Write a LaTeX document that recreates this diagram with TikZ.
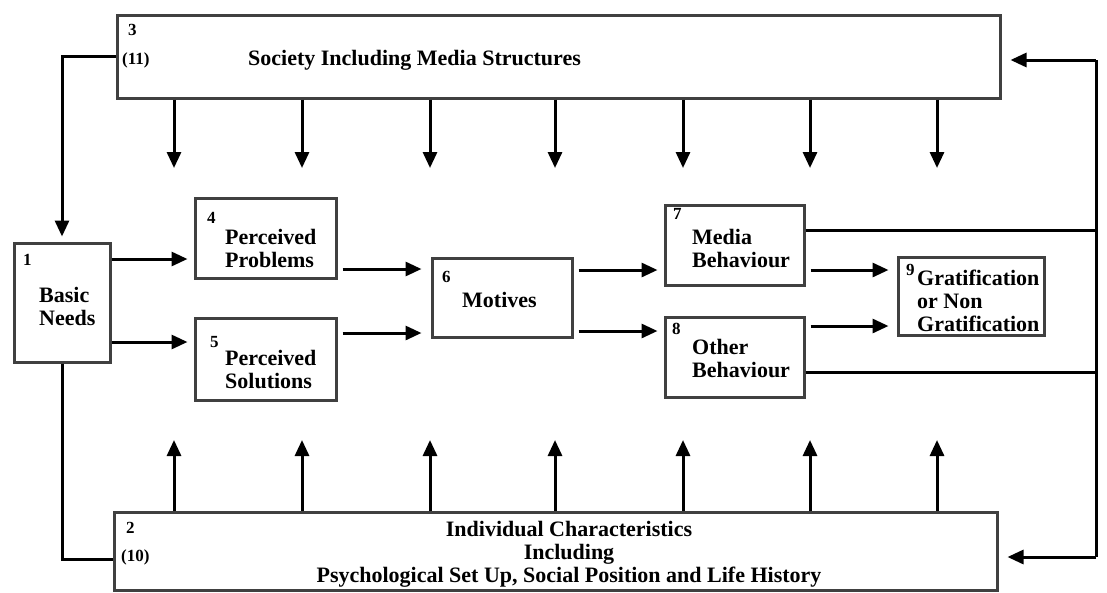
\documentclass[tikz,border=0pt]{standalone}
\usepackage{fontspec}
\setmainfont{Liberation Serif}
\usetikzlibrary{arrows.meta}

\tikzset{
  box/.style={draw=black!75, line width=3pt, inner sep=0pt},
  txt/.style={font=\bfseries\fontsize{22}{23}\selectfont, inner sep=0pt, align=left, anchor=west},
  num/.style={font=\bfseries\fontsize{17}{18}\selectfont, inner sep=0pt, anchor=west},
  link/.style={line width=3pt},
  arr/.style={line width=3pt, -{Triangle[length=16pt,width=14pt]}},
}

\begin{document}
\begin{tikzpicture}[x=1pt,y=-1pt]
  \useasboundingbox (0,0) rectangle (1107,592);

  % Boxes
  \node[box, minimum width=883, minimum height=83] (soc)   at (558.5,56.5) {};
  \node[box, minimum width=883, minimum height=78] (indiv) at (555.5,551) {};
  \node[box, minimum width=96,  minimum height=119] (basic) at (62,302.5) {};
  \node[box, minimum width=141, minimum height=80] (prob)  at (265.5,238) {};
  \node[box, minimum width=141, minimum height=82] (sol)   at (265.5,359) {};
  \node[box, minimum width=140, minimum height=79] (mot)   at (502,297.5) {};
  \node[box, minimum width=139, minimum height=80] (media) at (734.5,245) {};
  \node[box, minimum width=139, minimum height=80] (other) at (734.5,357) {};
  \node[box, minimum width=146, minimum height=78] (grat)  at (971,296) {};

  % Numbers
  \node[num] (n3)  at (128,30)  {3};
  \node[num] (n11) at (122,60)  {(11)};
  \node[num] (n2)  at (126,528) {2};
  \node[num] (n10) at (121,557) {(10)};
  \node[num] (n1)  at (23,260)  {1};
  \node[num] (n4)  at (207,218) {4};
  \node[num] (n5)  at (210,342) {5};
  \node[num] (n6)  at (442,277) {6};
  \node[num] (n7)  at (673,214) {7};
  \node[num] (n8)  at (672,329) {8};
  \node[num] (n9)  at (906,270) {9};

  % Texts
  \node[txt] (soctxt)   at (248,60)    {Society Including Media Structures};
  \node[txt, anchor=center, align=center] (indivtxt) at (569,554)
    {Individual Characteristics\\Including\\Psychological Set Up, Social Position and Life History};
  \node[txt] (basictxt) at (39,306)    {Basic\\Needs};
  \node[txt] (probtxt)  at (225,248.5) {Perceived\\Problems};
  \node[txt] (soltxt)   at (225,369.5) {Perceived\\Solutions};
  \node[txt] (mottxt)   at (462,300)   {Motives};
  \node[txt] (mediatxt) at (692,248.5) {Media\\Behaviour};
  \node[txt] (othertxt) at (692,358.5) {Other\\Behaviour};
  \node[txt] (grattxt)  at (917,301)   {Gratification\\or Non\\Gratification};

  % Society and individual arrows
  \foreach \x [count=\i] in {174,302,430,555,683,810,937} {
    \coordinate (down\i) at (\x,168);
    \coordinate (up\i) at (\x,440);
    \draw[arr] (soc.south -| down\i) -- (down\i);
    \draw[arr] (indiv.north -| up\i) -- (up\i);
  }

  % Left loop
  \draw[arr, shorten >=5pt] (soc.west) -| (basic.north);
  \draw[link] (basic.south) |- ([yshift=-8pt]indiv.west);

  % Main flow
  \draw[arr, shorten >=6pt] (basic.east |- 0,259) -- (prob.west |- 0,259);
  \draw[arr, shorten >=6pt] (basic.east |- 0,342) -- (sol.west |- 0,342);
  \draw[arr, shorten <=5pt, shorten >=9pt] (prob.east |- 0,269) -- (mot.west |- 0,269);
  \draw[arr, shorten <=5pt, shorten >=9pt] (sol.east |- 0,333) -- (mot.west |- 0,333);
  \draw[arr, shorten <=5pt, shorten >=6pt] (mot.east |- 0,270) -- (media.west |- 0,270);
  \draw[arr, shorten <=5pt, shorten >=6pt] (mot.east |- 0,331) -- (other.west |- 0,331);
  \draw[arr, shorten <=5pt, shorten >=8pt] (media.east |- 0,270) -- (grat.west |- 0,270);
  \draw[arr, shorten <=5pt, shorten >=8pt] (other.east |- 0,326) -- (grat.west |- 0,326);

  % Feedback on the right
  \coordinate (rtop) at (1096,60);
  \coordinate (rbot) at (1096,557);
  \draw[link] ([yshift=15pt]media.east) -| (rtop);
  \draw[link] ([yshift=-15pt]other.east) -| (rbot);
  \draw[link] (rtop) -- (rbot);
  \draw[arr, shorten >=9pt] (rtop) -- (rtop -| soc.east);
  \draw[arr, shorten >=9pt] (rbot) -- (rbot -| indiv.east);
\end{tikzpicture}
\end{document}
